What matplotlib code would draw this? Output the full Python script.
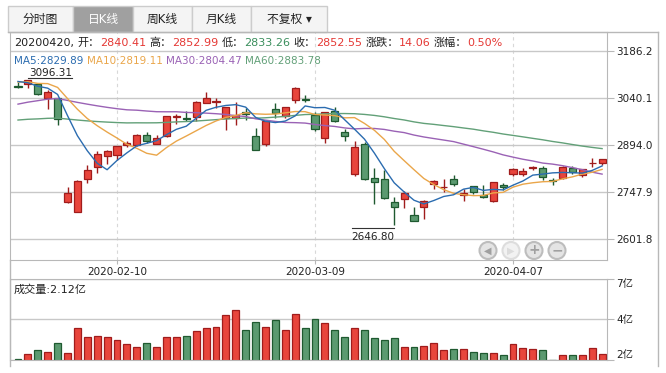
import numpy as np
import pandas as pd
import matplotlib
matplotlib.use('Agg')
import matplotlib.pyplot as plt
from matplotlib.patches import Rectangle, Ellipse
from matplotlib.lines import Line2D
from matplotlib.transforms import offset_copy

plt.rcParams['font.family'] = ['DejaVu Sans', 'Noto Sans CJK SC']

# ---- data (上证指数 日K, 2020-01-17 .. 2020-04-20) ----
dates = ['2020-01-17', '2020-01-20', '2020-01-21', '2020-01-22', '2020-01-23',
         '2020-02-03', '2020-02-04', '2020-02-05', '2020-02-06', '2020-02-07',
         '2020-02-10', '2020-02-11', '2020-02-12', '2020-02-13', '2020-02-14',
         '2020-02-17', '2020-02-18', '2020-02-19', '2020-02-20', '2020-02-21',
         '2020-02-24', '2020-02-25', '2020-02-26', '2020-02-27', '2020-02-28',
         '2020-03-02', '2020-03-03', '2020-03-04', '2020-03-05', '2020-03-06',
         '2020-03-09', '2020-03-10', '2020-03-11', '2020-03-12', '2020-03-13',
         '2020-03-16', '2020-03-17', '2020-03-18', '2020-03-19', '2020-03-20',
         '2020-03-23', '2020-03-24', '2020-03-25', '2020-03-26', '2020-03-27',
         '2020-03-30', '2020-03-31', '2020-04-01', '2020-04-02', '2020-04-03',
         '2020-04-07', '2020-04-08', '2020-04-09', '2020-04-10', '2020-04-13',
         '2020-04-14', '2020-04-15', '2020-04-16', '2020-04-17', '2020-04-20']

opens = [3079, 3085, 3084, 3040, 3040, 2716.70, 2685.27, 2790, 2828, 2860,
         2863, 2894, 2896, 2927, 2899, 2924, 2981, 2980, 2983, 3025,
         3028, 2980, 2978, 2997, 2924, 2899, 3008, 2986, 3036, 3038,
         2987, 2918, 3001, 2936, 2805, 2897, 2793, 2790, 2718, 2726,
         2677, 2703, 2775, 2763, 2790, 2741, 2766, 2740, 2722, 2772,
         2806, 2805, 2824, 2824, 2785.5, 2792, 2824, 2801, 2837.5, 2840.41]
highs = [3091, 3096.31, 3087, 3067, 3042, 2765, 2787, 2833, 2876, 2878,
         2893, 2906, 2930, 2935, 2926, 2985, 2991, 3000, 3032, 3058.9,
         3040, 3014, 3028, 3010, 2948, 2971, 3027, 3014, 3074.3, 3051,
         2998, 2998, 3013, 2945, 2908, 2904, 2824, 2816, 2733, 2751,
         2702, 2724, 2785, 2788, 2802, 2757, 2768, 2771, 2781, 2778,
         2823, 2822, 2829, 2830, 2793, 2829, 2829, 2821, 2853, 2852.99]
lows = [3072, 3073, 3050, 3006, 2957, 2714, 2685.27, 2778, 2808, 2837,
        2848, 2888, 2893, 2902, 2897, 2921, 2960, 2970, 2969, 3024,
        3011, 2943, 2958, 2972, 2878, 2893, 2978, 2980, 3026, 3030,
        2940, 2902, 2967, 2906, 2799, 2785, 2713, 2726, 2646.80, 2700,
        2658, 2665, 2758, 2749, 2768, 2722, 2743, 2729, 2719, 2756,
        2799, 2799, 2816, 2785, 2772, 2789, 2806, 2797, 2826, 2833.26]
closes = [3075.50, 3095.79, 3052.14, 3060.75, 2976.53, 2746.61, 2783.29, 2818.09, 2866.51, 2875.96,
          2890.49, 2901.67, 2926.90, 2906.07, 2917.01, 2983.62, 2984.97, 2975.40, 3030.15, 3039.67,
          3031.23, 3013.05, 2987.93, 2991.33, 2880.30, 2970.93, 2992.90, 3011.67, 3071.68, 3034.51,
          2943.29, 2996.76, 2968.52, 2923.49, 2887.43, 2789.25, 2779.64, 2728.76, 2702.13, 2745.62,
          2660.17, 2722.44, 2781.59, 2764.91, 2772.20, 2747.21, 2750.30, 2734.52, 2780.64, 2763.99,
          2820.76, 2815.37, 2825.90, 2796.63, 2783.05, 2827.28, 2811.17, 2819.94, 2838.49, 2852.55]
# closes before the visible range, only used for the moving averages
prev_closes = [2954.93, 2980.05, 2954.18, 2939.32, 2929.06,
               2958.20, 2975.49, 2991.56, 2978.60, 2978.71, 2964.18, 2909.97, 2914.82, 2905.24,
               2909.87, 2891.34, 2909.20, 2933.99, 2911.05, 2903.64, 2885.29, 2906.17, 2907.06,
               2903.19, 2889.69, 2871.98,
               2875.81, 2884.70, 2878.12, 2899.47, 2912.01, 2914.48, 2917.32, 2924.42, 2915.70,
               2967.68, 2984.39, 3022.42, 3017.04, 3017.07, 3004.94, 2962.75, 2982.68, 2981.88,
               2990.69, 2981.03, 3040.02, 3050.12,
               3085.20, 3083.79, 3083.41, 3104.80, 3066.89, 3094.88, 3092.29, 3115.57, 3106.82,
               3090.04, 3074.08]
# 成交量 (亿)
volumes = [1.83, 2.12, 2.32, 2.21, 2.70, 2.16, 3.51, 3.03, 3.10, 3.03,
           2.86, 2.65, 2.48, 2.70, 2.48, 3.03, 3.03, 3.10, 3.35, 3.51,
           3.57, 4.22, 4.49, 3.41, 3.84, 3.57, 3.95, 3.41, 4.27, 3.51,
           4.00, 3.78, 3.41, 3.03, 3.51, 3.41, 2.97, 2.86, 2.97, 2.48,
           2.48, 2.54, 2.70, 2.32, 2.38, 2.38, 2.21, 2.16, 2.16, 2.05,
           2.65, 2.43, 2.38, 2.32, 1.80, 2.07, 2.07, 2.07, 2.43, 2.12]

price_ticks = [2601.8, 2747.9, 2894.0, 3040.1, 3186.2]
vol_ticks = [1.78, 4.0, 6.17]
vol_labels = ['2亿', '4亿', '7亿']
tabs = ['分时图', '日K线', '周K线', '月K线', '不复权 ▾']

RED, DRED = '#e8453c', '#a01c1c'
GREEN, DGREEN = '#5b9a70', '#1f5a30'
TRED, TGREEN = '#e53935', '#3a8e5c'
SP = '#b8b8b8'
MA_COLORS = {5: '#2b6cb0', 10: '#eaa64a', 30: '#9a62b5', 60: '#62a078'}

W, H = 666, 373
fig = plt.figure(figsize=(W / 100, H / 100), dpi=100)


def fx(px):
    return px / W


def fy(py):
    return 1 - py / H


L, R = 9.5, 607
ax = fig.add_axes([fx(L), fy(260), fx(R) - fx(L), fy(32) - fy(260)])
axv = fig.add_axes([fx(L), fy(360), fx(R) - fx(L), fy(279) - fy(360)])

o = np.array(opens); c = np.array(closes)
hi = np.array(highs); lo = np.array(lows)
x = np.arange(len(dates))
up = c >= o
fill = np.where(up, RED, GREEN)
edge = np.where(up, DRED, DGREEN)

ax.vlines(x, lo, hi, colors=edge, lw=1, zorder=2)
ax.bar(x, np.maximum(np.abs(c - o), 0.3), 0.72, bottom=np.minimum(o, c),
       color=fill, edgecolor=edge, lw=0.9, zorder=3)

allc = pd.Series(prev_closes + closes)
mas = {n: allc.rolling(n).mean().iloc[-len(closes):].to_numpy() for n in (5, 10, 30, 60)}
for n in (60, 30, 10, 5):
    ax.plot(x, mas[n], color=MA_COLORS[n], lw=1.0, zorder=4)

# 最高 / 最低 标注
ih = int(np.argmax(hi)); il = int(np.argmin(lo))
ax.plot([ih, ih + 4.5], [hi[ih]] * 2, color='#333333', lw=0.8,
        transform=offset_copy(ax.transData, fig=fig, x=0, y=2.5, units='dots'))
ax.text(ih + 0.1, hi[ih], f'{hi[ih]:.2f}', fontsize=7.5, color='#222222', va='baseline',
        transform=offset_copy(ax.transData, fig=fig, x=0, y=4.5, units='dots'))
ax.plot([il - 4.3, il], [lo[il]] * 2, color='#333333', lw=0.8,
        transform=offset_copy(ax.transData, fig=fig, x=0, y=-3.5, units='dots'))
ax.text(il, lo[il], f'{lo[il]:.2f}', fontsize=7.5, color='#222222', va='baseline', ha='right',
        transform=offset_copy(ax.transData, fig=fig, x=0, y=-15.5, units='dots'))

step = 9.9
ax.set_xlim((L - 18) / step, (R - 18) / step)
ax.set_ylim(2537.5, 3246.2)
ax.yaxis.tick_right()
ax.set_yticks(price_ticks)
ax.set_yticklabels([f'{v:.1f}' for v in price_ticks])
date_idx = list(range(10, len(dates), 20))
ax.set_xticks(date_idx)
ax.set_xticklabels([dates[i] for i in date_idx])
ax.yaxis.grid(True, color='#c8c8c8', lw=1)
ax.xaxis.grid(True, color='#d8d8d8', lw=0.8, ls=(0, (3, 3)))
ax.set_axisbelow(True)
ax.tick_params(axis='y', length=5, color=SP, labelsize=7.5, pad=1.5, labelcolor='#222222')
ax.tick_params(axis='x', length=3, color=SP, labelsize=7.5, pad=2, labelcolor='#222222')
for s in ax.spines.values():
    s.set_color(SP)

axv.bar(x, volumes, 0.7, color=fill, edgecolor=edge, lw=0.9)
axv.set_xlim(ax.get_xlim())
axv.set_ylim(vol_ticks[0], vol_ticks[-1])
axv.set_xticks([])
axv.yaxis.tick_right()
axv.set_yticks(vol_ticks)
axv.set_yticklabels(vol_labels)
axv.yaxis.grid(True, color='#c8c8c8', lw=1)
axv.set_axisbelow(True)
axv.tick_params(axis='y', length=5, color=SP, labelsize=7.5, pad=1.5, labelcolor='#222222')
tl = axv.get_yticklabels()
tl[0].set_va('bottom'); tl[-1].set_va('top')
for s in axv.spines.values():
    s.set_color(SP)
fig.text(fx(14), fy(293), f'成交量:{volumes[-1]:.2f}亿', fontsize=8, color='#222222', va='baseline')

# 外框
fig.add_artist(Line2D([fx(8), fx(658)], [fy(32), fy(32)], color=SP, lw=1))
fig.add_artist(Line2D([fx(658), fx(658)], [fy(32), fy(366)], color=SP, lw=1))
fig.add_artist(Line2D([fx(L), fx(L)], [fy(260), fy(366)], color=SP, lw=1))

# 顶部标签
tab_edges = [8, 73, 133, 192, 251, 327]
for i, t in enumerate(tabs):
    sel = i == 1
    fig.add_artist(Rectangle((fx(tab_edges[i]), fy(32)), fx(tab_edges[i + 1]) - fx(tab_edges[i]),
                             fy(6) - fy(32), facecolor='#a0a0a0' if sel else '#f4f4f4',
                             edgecolor='#cccccc', lw=1))
    fig.text(fx((tab_edges[i] + tab_edges[i + 1]) / 2), fy(19), t, ha='center', va='center',
             fontsize=8.5, color='white' if sel else '#222222')

# 信息行
renderer = fig.canvas.get_renderer()


def rainbow(x0, ybase, parts, size, gap):
    xp = x0
    for s, col, sp in parts:
        t = fig.text(fx(xp), fy(ybase), s, color=col, fontsize=size, va='baseline', ha='left')
        xp += t.get_window_extent(renderer).width + (gap if sp else 0)


pc = closes[-2]
chg = closes[-1] - pc


def cc(v):
    return TRED if v >= pc else TGREEN


K = '#222222'
rainbow(14, 46, [
    (dates[-1].replace('-', '') + ',', K, 1), ('开：', K, 0), (f'{opens[-1]:.2f}', cc(opens[-1]), 1),
    ('高：', K, 0), (f'{highs[-1]:.2f}', cc(highs[-1]), 1),
    ('低：', K, 0), (f'{lows[-1]:.2f}', cc(lows[-1]), 1),
    ('收：', K, 0), (f'{closes[-1]:.2f}', cc(closes[-1]), 1),
    ('涨跌：', K, 0), (f'{chg:.2f}', TRED if chg >= 0 else TGREEN, 1),
    ('涨幅：', K, 0), (f'{chg / pc * 100:.2f}%', TRED if chg >= 0 else TGREEN, 0)], 8, 3.6)
rainbow(14, 64, [(f'MA{n}:{mas[n][-1]:.2f}', MA_COLORS[n], 1) for n in (5, 10, 30, 60)], 7.5, 3.3)

# 导航按钮
for j, (cx, sym) in enumerate(zip([488, 511, 534, 557], ['◀', '▶', '+', '−'])):
    faded = j == 1
    fig.add_artist(Ellipse((fx(cx), fy(250.5)), 17 / W, 17 / H,
                           facecolor='#f2f2f2' if faded else '#e4e4e4',
                           edgecolor='#dddddd' if faded else '#bdbdbd', lw=1.5))
    fig.text(fx(cx), fy(250.5), sym, ha='center', va='center', fontsize=7 if j < 2 else 10,
             color='#dcdcdc' if faded else '#a0a0a0', fontweight='bold')

fig.savefig('out.png', dpi=100)
